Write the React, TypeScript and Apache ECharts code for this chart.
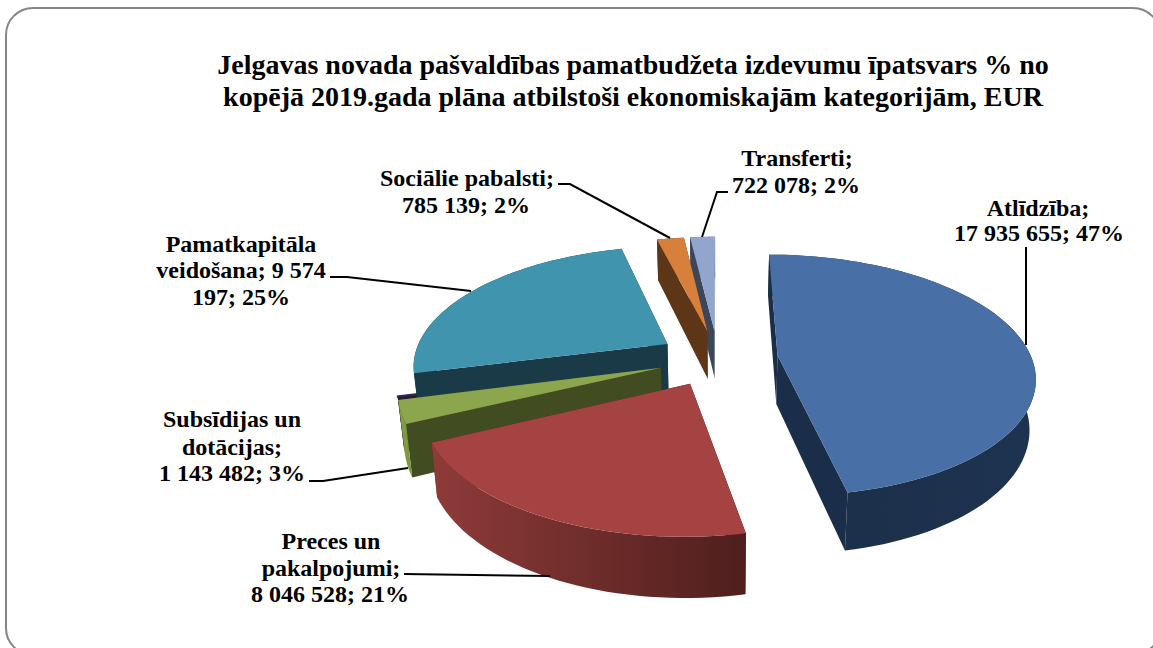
import React, { useEffect, useRef } from "react";
import * as echarts from "echarts";

const titleLines = [
  "Jelgavas novada pašvaldības pamatbudžeta izdevumu īpatsvars % no",
  "kopējā 2019.gada plāna atbilstoši ekonomiskajām kategorijām, EUR",
];

const categories = [
  "Atlīdzība",
  "Preces un pakalpojumi",
  "Subsīdijas un dotācijas",
  "Procentu izdevumi",
  "Pamatkapitāla veidošana",
  "Sociālie pabalsti",
  "Transferti",
];
const values = [17935655, 8046528, 1143482, 45000, 9574197, 785139, 722078];
const topColors = ["#4870A6", "#A54342", "#8CA64E", "#33264A", "#4094AD", "#D6803C", "#92A6CD"];
const sideColors = ["#1B2E49", "#4F1F1D", "#414C20", "#241A33", "#1A3A47", "#5C3616", "#3B4759"];
const outerFrom = ["#1B2E49", "#8E3B39", "#86A046", "#2A1F3C", "#1A3A47", "#5C3616", "#3B4759"];
const outerTo = ["#1E3350", "#4F1F1D", "#7A9340", "#2A1F3C", "#1A3A47", "#5C3616", "#3B4759"];
// painter's order, far slices first
const drawRank = [6, 5, 4, 2, 3, 1, 0];

const labelLines: [string, number, number][] = [
  ["Atlīdzība;", 1038, 208],
  ["17 935 655; 47%", 1039, 233],
  ["Transferti;", 797, 158],
  ["722 078; 2%", 796, 185],
  ["Sociālie pabalsti;", 467, 178],
  ["785 139; 2%", 466, 205],
  ["Pamatkapitāla", 241, 244],
  ["veidošana; 9 574", 241, 270],
  ["197; 25%", 241, 297],
  ["Subsīdijas un", 232, 419],
  ["dotācijas;", 232, 447],
  ["1 143 482; 3%", 232, 473],
  ["Preces un", 331, 541],
  ["pakalpojumi;", 331, 568],
  ["8 046 528; 21%", 330, 594],
];

const leaders: number[][][] = [
  [[1026, 247], [1026, 345]],
  [[728, 192], [717, 192], [702, 237]],
  [[558, 184], [570, 184], [670, 238]],
  [[330, 277], [347, 277], [471, 291]],
  [[309, 481], [323, 481], [408, 468]],
  [[404, 574], [550, 576]],
];

const VX = 718;
const CY = 358;
const R = 254;
const EXPLODE = 60;
const TILT = 0.465;
const PERSP = 0.00065;
const DEPTH = 49;
const BOTTOM_SHRINK = 0.98;

const total = values.reduce((a, b) => a + b, 0);

function project(x: number, z: number, low: boolean): number[] {
  const s = 1 / (1 + PERSP * z);
  const sx = x * s * (low ? BOTTOM_SHRINK : 1);
  const y = CY - TILT * z * s + (low ? DEPTH * s : 0);
  return [VX + sx, y];
}

function renderSlice(params: any, api: any) {
  const i = params.dataIndex;
  let before = 0;
  for (let k = 0; k < i; k++) before += values[k];
  const a0 = (before / total) * Math.PI * 2;
  const a1 = ((before + api.value(0)) / total) * Math.PI * 2;
  const mid = (a0 + a1) / 2;
  const ox = EXPLODE * Math.sin(mid);
  const oz = EXPLODE * Math.cos(mid);
  const rim: number[][] = [];
  const steps = Math.max(2, Math.ceil(((a1 - a0) * 180) / Math.PI / 2));
  for (let k = 0; k <= steps; k++) {
    const a = a0 + ((a1 - a0) * k) / steps;
    rim.push([ox + R * Math.sin(a), oz + R * Math.cos(a)]);
  }
  const top = (p: number[]) => project(p[0], p[1], false);
  const low = (p: number[]) => project(p[0], p[1], true);
  const apex = [ox, oz];
  const first = rim[0];
  const last = rim[rim.length - 1];
  const z = drawRank[i] * 10;
  const wall = (a: number[], b: number[]) => [top(a), top(b), low(b), low(a)];
  const outer = [...rim.map(top), ...rim.slice().reverse().map(low)];
  const topFace = [top(apex), ...rim.map(top)];
  const gradient = new echarts.graphic.LinearGradient(0, 0, 1, 0, [
    { offset: 0, color: outerFrom[i] },
    { offset: 1, color: outerTo[i] },
  ]);
  const poly = (points: number[][], fill: any, z2: number, stroke = "none", lineWidth = 0) => ({
    type: "polygon",
    z2,
    shape: { points },
    style: { fill, stroke, lineWidth },
  });
  // a sliver thinner than a pixel near its apex still shows as a thin line
  const sliver = a1 - a0 < 0.02;
  return {
    type: "group",
    children: [
      poly(wall(apex, first), sideColors[i], z + 1),
      poly(wall(apex, last), sideColors[i], z + 2),
      poly(outer, gradient, z + 3),
      poly(topFace, topColors[i], z + 4, sliver ? topColors[i] : "none", sliver ? 1.5 : 0),
    ],
  };
}

export default function App() {
  const ref = useRef<HTMLDivElement>(null);
  useEffect(() => {
    document.body.style.margin = "0";
    const chart = echarts.init(ref.current!, null, { renderer: "svg" });
    const font = "'Liberation Serif', 'Times New Roman', serif";
    chart.setOption({
      animation: false,
      backgroundColor: "#ffffff",
      graphic: [
        {
          type: "rect",
          z: -10,
          silent: true,
          shape: { x: 6, y: 8, width: 1154, height: 647, r: 27 },
          style: { fill: "#ffffff", stroke: "#858585", lineWidth: 2 },
        },
        ...titleLines.map((text, idx) => ({
          type: "text",
          x: 633,
          y: 64 + idx * 32,
          z: 5,
          style: { text, font: `bold 28px ${font}`, fill: "#000", align: "center", verticalAlign: "middle" },
        })),
        ...labelLines.map(([text, x, y]) => ({
          type: "text",
          x,
          y,
          z: 5,
          style: { text, font: `bold 24px ${font}`, fill: "#000", align: "center", verticalAlign: "middle" },
        })),
        ...leaders.map((points) => ({
          type: "polyline",
          z: 6,
          shape: { points },
          style: { stroke: "#000", lineWidth: 2, fill: "none" },
        })),
      ],
      series: [
        {
          type: "custom",
          coordinateSystem: "none",
          renderItem: renderSlice,
          data: values.map((value, idx) => ({ name: categories[idx], value: [value] })),
        },
      ],
    });
    return () => chart.dispose();
  }, []);
  return <div ref={ref} style={{ position: "fixed", left: 0, top: 0, width: 1153, height: 648 }} />;
}
